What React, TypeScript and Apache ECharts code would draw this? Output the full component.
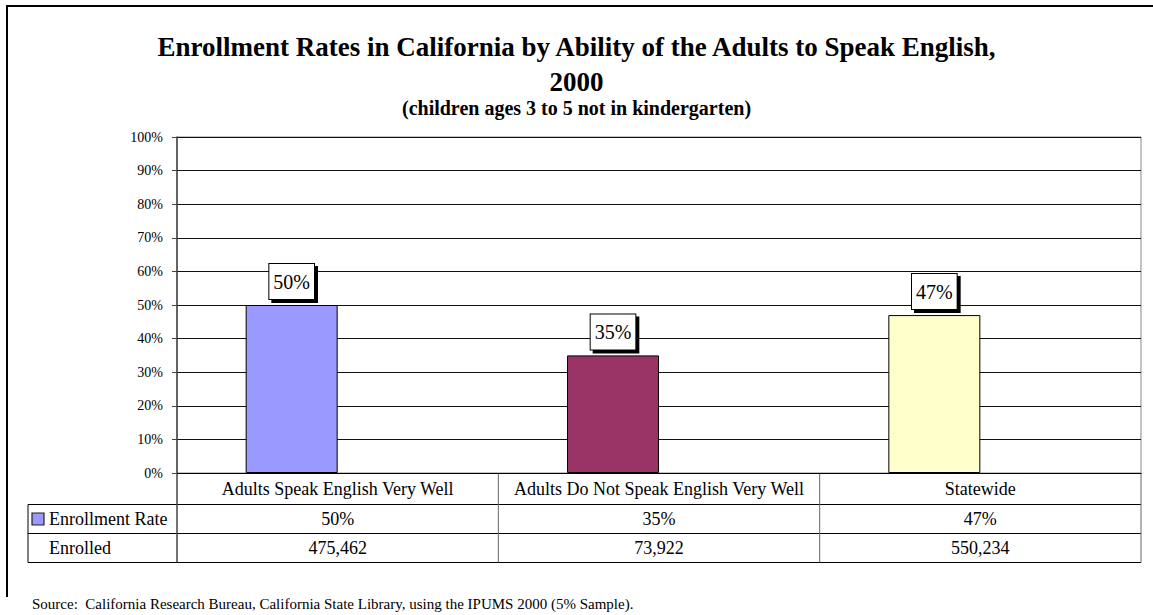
import React, { useEffect, useRef } from "react";
import * as echarts from "echarts";

// Chart data
const categories = [
  "Adults Speak English Very Well",
  "Adults Do Not Speak English Very Well",
  "Statewide",
];
const enrollmentRate = [50, 35, 47];
const enrolledCount = [475462, 73922, 550234];
const barColors = ["#9999FF", "#993366", "#FFFFCC"];
const tableRowLabels = ["Enrollment Rate", "Enrolled"];

const titleText =
  "Enrollment Rates in California by Ability of the Adults to Speak English,\n2000";
const subtitleText = "(children ages 3 to 5 not in kindergarten)";
const sourceText =
  "Source:  California Research Bureau, California State Library, using the IPUMS 2000 (5% Sample).";

// Layout
const W = 1153;
const H = 615;
const PLOT_LEFT = 177;
const PLOT_RIGHT = 1141;
const PLOT_TOP = 137;
const PLOT_BOTTOM = 473;
const TABLE_LEFT = 28;
const ROW_RATE_TOP = 504.5;
const ROW_ENROLLED_TOP = 533.5;
const TABLE_BOTTOM = 562.5;
const SERIF = "'Liberation Serif', 'Times New Roman', serif";

export default function App() {
  const ref = useRef<HTMLDivElement>(null);

  useEffect(() => {
    document.body.style.margin = "0";
    if (!ref.current) return;
    const chart = echarts.init(ref.current, null, { renderer: "svg" });

    const colW = (PLOT_RIGHT - PLOT_LEFT) / categories.length;
    const colCenter = (i: number) => PLOT_LEFT + colW * (i + 0.5);
    const lineStyle = (stroke: string, w = 1) => ({ stroke, lineWidth: w });

    const graphics: any[] = [];

    // outer frame (top and left edges)
    graphics.push({
      type: "polyline",
      shape: { points: [[7, 597], [7, 6], [W + 5, 6]] },
      style: { stroke: "#000", lineWidth: 2, fill: "none" },
      silent: true,
    });

    // data table horizontal rules
    [ROW_RATE_TOP, ROW_ENROLLED_TOP, TABLE_BOTTOM].forEach((y) => {
      graphics.push({
        type: "line",
        shape: { x1: TABLE_LEFT, y1: y, x2: PLOT_RIGHT, y2: y },
        style: lineStyle("#000"),
        silent: true,
      });
    });
    // table vertical rules
    graphics.push({
      type: "line",
      shape: { x1: TABLE_LEFT, y1: ROW_RATE_TOP, x2: TABLE_LEFT, y2: TABLE_BOTTOM },
      style: lineStyle("#000"),
      silent: true,
    });
    for (let i = 0; i <= categories.length; i++) {
      const x = PLOT_LEFT + colW * i;
      graphics.push({
        type: "line",
        shape: { x1: x, y1: PLOT_BOTTOM, x2: x, y2: TABLE_BOTTOM },
        style: lineStyle(i === 0 ? "#444" : "#666", i === 0 ? 1.5 : 1),
        silent: true,
      });
    }

    // row headers
    const rowMidRate = (ROW_RATE_TOP + ROW_ENROLLED_TOP) / 2;
    const rowMidEnrolled = (ROW_ENROLLED_TOP + TABLE_BOTTOM) / 2;
    graphics.push({
      type: "rect",
      shape: { x: 32, y: rowMidRate - 6, width: 12, height: 12 },
      style: { fill: barColors[0], stroke: "#222", lineWidth: 1.2 },
      silent: true,
    });
    [rowMidRate, rowMidEnrolled].forEach((y, r) => {
      graphics.push({
        type: "text",
        x: 49,
        y,
        style: {
          text: tableRowLabels[r],
          fontSize: 18,
          fontFamily: SERIF,
          fill: "#000",
          align: "left",
          verticalAlign: "middle",
        },
        silent: true,
      });
    });

    // table values
    categories.forEach((_, i) => {
      graphics.push({
        type: "text",
        x: colCenter(i),
        y: rowMidRate,
        style: {
          text: `${enrollmentRate[i]}%`,
          fontSize: 18,
          fontFamily: SERIF,
          fill: "#000",
          align: "center",
          verticalAlign: "middle",
        },
        silent: true,
      });
      graphics.push({
        type: "text",
        x: colCenter(i),
        y: rowMidEnrolled,
        style: {
          text: enrolledCount[i].toLocaleString("en-US"),
          fontSize: 18,
          fontFamily: SERIF,
          fill: "#000",
          align: "center",
          verticalAlign: "middle",
        },
        silent: true,
      });
    });

    // source note
    graphics.push({
      type: "text",
      x: 32,
      y: 604,
      style: {
        text: sourceText,
        fontSize: 15,
        fontFamily: SERIF,
        fill: "#000",
        align: "left",
        verticalAlign: "middle",
      },
      silent: true,
    });

    const option: any = {
      animation: false,
      backgroundColor: "#fff",
      title: [
        {
          text: titleText,
          left: W / 2,
          top: 30,
          padding: 0,
          textAlign: "center",
          textStyle: {
            fontFamily: SERIF,
            fontSize: 27,
            fontWeight: "bold",
            color: "#000",
            lineHeight: 34.5,
          },
        },
        {
          text: subtitleText,
          left: W / 2,
          top: 98,
          padding: 0,
          textAlign: "center",
          textStyle: {
            fontFamily: SERIF,
            fontSize: 20,
            fontWeight: "bold",
            color: "#000",
            lineHeight: 20,
          },
        },
      ],
      grid: {
        left: PLOT_LEFT,
        right: W - PLOT_RIGHT,
        top: PLOT_TOP,
        bottom: H - PLOT_BOTTOM,
        show: true,
        borderColor: "#888",
        borderWidth: 1,
      },
      xAxis: {
        type: "category",
        data: categories,
        axisLine: { show: true, lineStyle: { color: "#000", width: 1 } },
        axisTick: { show: false },
        axisLabel: {
          interval: 0,
          margin: 7,
          fontFamily: SERIF,
          fontSize: 18,
          color: "#000",
        },
      },
      yAxis: {
        type: "value",
        min: 0,
        max: 100,
        interval: 10,
        axisLine: { show: true, lineStyle: { color: "#444", width: 1.5 } },
        axisTick: { show: true, length: 5, lineStyle: { color: "#444" } },
        axisLabel: {
          formatter: "{value}%",
          margin: 14,
          fontFamily: SERIF,
          fontSize: 14,
          color: "#000",
        },
        splitLine: { show: true, lineStyle: { color: "#111", width: 1 } },
      },
      series: [
        {
          name: "Enrollment Rate",
          type: "bar",
          barWidth: 92,
          barGap: "0%",
          data: enrollmentRate.map((v, i) => ({
            value: v,
            itemStyle: { color: barColors[i], borderColor: "#000", borderWidth: 1 },
          })),
          label: {
            show: true,
            position: "top",
            distance: 6,
            formatter: "{c}%",
            fontFamily: SERIF,
            fontSize: 20,
            lineHeight: 22,
            color: "#000",
            backgroundColor: "#fff",
            borderColor: "#000",
            borderWidth: 1,
            padding: [7, 4, 6, 4],
            shadowColor: "#000",
            shadowBlur: 0,
            shadowOffsetX: 3,
            shadowOffsetY: 3,
          },
        },
        {
          name: "Enrolled",
          type: "bar",
          barWidth: 92,
          barGap: "0%",
          silent: true,
          data: categories.map(() => "-"),
        },
      ],
      graphic: graphics,
    };

    chart.setOption(option);
    return () => chart.dispose();
  }, []);

  return <div ref={ref} style={{ width: W, height: H }} />;
}
